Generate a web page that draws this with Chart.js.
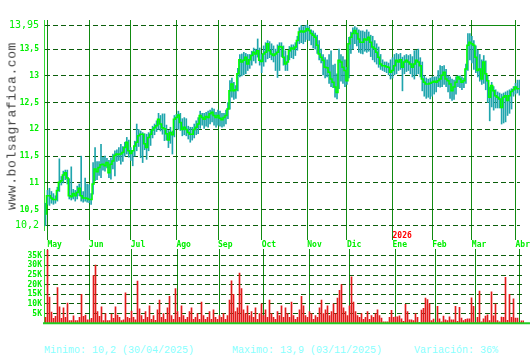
<!DOCTYPE html>
<html><head><meta charset="utf-8">
<script src="https://cdn.jsdelivr.net/npm/chart.js@4.4.1/dist/chart.umd.min.js"></script>
<style>
html,body{margin:0;padding:0;background:#fff;width:530px;height:360px;overflow:hidden;position:relative;font-family:"DejaVu Sans Mono",monospace}
#wrapP{position:absolute;left:0;top:0;width:530px;height:250px}
#wrapV{position:absolute;left:0;top:240px;width:530px;height:90px}
#brand{position:absolute;left:12px;top:126px;width:0;height:0}
#brand span{position:absolute;left:0;top:0;white-space:nowrap;font-family:"Liberation Mono",monospace;font-size:13px;letter-spacing:0.6px;color:#444;line-height:1;transform:translate(-50%,-50%) rotate(-90deg)}
.ft{position:absolute;top:345px;font-family:"Liberation Mono",monospace;font-size:10px;color:#88ffff;white-space:nowrap;line-height:12px}
</style></head>
<body>
<div id="wrapP"><canvas id="cp" width="530" height="250"></canvas></div>
<div id="wrapV"><canvas id="cv" width="530" height="90"></canvas></div>
<div id="brand"><span>www.bolsagrafica.com</span></div>
<div class="ft" style="left:44px">Minimo: 10,2 (30/04/2025)</div>
<div class="ft" style="left:232px">Maximo: 13,9 (03/11/2025)</div>
<div class="ft" style="left:414px">Variación: 36%</div>
<script>
const months = ['May','Jun','Jul','Ago','Sep','Oct','Nov','Dic','Ene','Feb','Mar','Abr'];
const monthIdx = [1,22,43,66,87,109,132,152,175,195,215,237];
const yearLabel = '2026';
const yearMonth = 8;
const priceTicks = [10.2,10.5,11,11.5,12,12.5,13,13.5,13.95];
const volTicks = [5,10,15,20,25,30,35];

const closes = [
10.42,10.76,10.76,10.72,10.69,10.69,10.86,11.01,11.04,11.15,11.19,11.09,10.76,10.74,10.80,10.76,10.82,10.90,10.76,10.72,
10.72,10.71,10.69,10.69,10.98,11.26,11.21,11.29,11.34,11.35,11.32,11.38,11.19,11.35,11.41,11.51,11.54,11.53,11.54,11.57,
11.66,11.76,11.60,11.55,11.60,11.69,11.76,11.88,11.91,11.91,11.73,11.66,11.85,11.91,11.99,12.03,12.07,12.19,12.10,12.03,
12.01,11.92,11.80,11.94,11.90,12.19,12.22,12.27,12.13,12.00,12.04,12.00,11.94,11.91,11.91,12.00,12.04,12.10,12.26,12.22,
12.19,12.24,12.22,12.29,12.32,12.26,12.22,12.26,12.21,12.18,12.22,12.26,12.38,12.72,12.85,12.72,12.74,13.04,13.30,13.26,
13.29,13.35,13.22,13.30,13.38,13.44,13.41,13.47,13.29,13.27,13.41,13.44,13.60,13.47,13.41,13.38,13.41,13.44,13.55,13.54,
13.35,13.22,13.26,13.47,13.52,13.50,13.54,13.66,13.82,13.84,13.82,13.84,13.88,13.85,13.79,13.76,13.72,13.57,13.41,13.35,
13.29,13.16,13.15,13.07,12.94,12.88,12.79,12.69,13.29,13.26,13.16,13.10,12.91,13.60,13.72,13.79,13.85,13.79,13.69,13.63,
13.63,13.69,13.67,13.72,13.63,13.54,13.51,13.44,13.35,13.22,13.19,13.19,13.17,13.16,13.07,13.10,13.19,13.29,13.26,13.30,
13.16,13.26,13.29,13.26,13.22,13.16,13.22,13.29,13.26,13.19,12.94,12.88,12.85,12.85,12.86,12.88,12.90,12.88,12.91,12.94,
13.01,13.07,12.94,12.91,12.85,12.72,12.79,12.88,12.98,12.94,12.88,12.91,13.13,13.57,13.63,13.60,13.57,13.35,13.10,13.13,
12.94,13.26,13.04,12.91,12.60,12.82,12.72,12.63,12.60,12.57,12.41,12.60,12.63,12.54,12.63,12.71,12.74,12.79,12.76,12.76];

const highs = [
10.62,10.86,10.90,10.84,10.80,10.76,10.92,11.45,11.12,11.22,11.24,11.24,11.08,11.30,10.88,10.86,10.94,10.98,11.50,10.84,
11.09,10.98,10.97,10.80,11.38,11.66,11.40,11.40,11.72,11.48,11.50,11.46,11.42,11.47,11.54,11.60,11.62,11.66,11.72,11.68,
11.76,11.85,11.80,11.66,11.60,11.78,12.10,12.00,11.97,11.94,11.92,11.91,11.94,11.98,12.06,12.10,12.16,12.30,12.26,12.29,
12.29,12.08,11.98,12.04,11.97,12.26,12.28,12.34,12.30,12.20,12.22,12.20,12.06,12.04,12.04,12.10,12.16,12.22,12.34,12.30,
12.30,12.32,12.34,12.36,12.40,12.38,12.32,12.36,12.34,12.30,12.30,12.36,12.50,12.91,12.96,12.88,12.82,13.14,13.40,13.41,
13.44,13.42,13.40,13.40,13.46,13.52,13.50,13.69,13.52,13.40,13.56,13.62,13.66,13.64,13.60,13.56,13.50,13.58,13.62,13.62,
13.56,13.47,13.38,13.55,13.58,13.58,13.62,13.74,13.90,13.94,13.92,13.94,13.95,13.92,13.86,13.84,13.80,13.76,13.66,13.50,
13.40,13.34,13.30,13.40,13.47,13.20,13.22,13.04,13.50,13.40,13.36,13.30,13.16,13.72,13.82,13.90,13.92,13.90,13.86,13.84,
13.84,13.82,13.86,13.82,13.76,13.74,13.66,13.60,13.54,13.40,13.30,13.26,13.26,13.24,13.30,13.34,13.40,13.42,13.40,13.42,
13.35,13.38,13.40,13.38,13.40,13.36,13.47,13.48,13.50,13.34,13.26,13.00,12.96,12.94,12.96,12.98,12.98,12.98,13.10,13.19,
13.18,13.19,13.12,13.00,12.98,12.94,12.92,12.98,13.00,13.00,12.98,12.96,13.22,13.79,13.79,13.74,13.66,13.56,13.48,13.40,
13.30,13.38,13.28,13.00,12.79,12.88,12.80,12.74,12.70,12.68,12.66,12.68,12.70,12.72,12.74,12.76,12.80,12.86,12.92,12.92];

const lows = [
10.20,10.60,10.58,10.62,10.60,10.62,10.66,10.84,10.96,11.00,11.06,10.98,10.70,10.68,10.70,10.66,10.70,10.76,10.66,10.64,
10.66,10.64,10.63,10.60,10.79,11.04,11.06,11.14,11.10,11.24,11.22,11.28,11.10,11.07,11.26,11.13,11.40,11.42,11.35,11.40,
11.50,11.54,11.48,11.42,11.32,11.50,11.60,11.68,11.47,11.38,11.62,11.44,11.60,11.70,11.84,11.90,11.96,12.00,11.97,11.91,
11.79,11.80,11.66,11.74,11.54,11.86,12.02,12.00,11.98,11.88,11.90,11.88,11.82,11.76,11.80,11.84,11.90,11.92,12.02,12.08,
12.02,12.06,12.04,12.10,12.14,12.08,12.04,12.08,12.06,12.04,12.06,12.10,12.20,12.38,12.60,12.56,12.58,12.72,12.98,13.00,
13.02,13.04,13.10,13.14,13.20,13.28,13.24,13.35,13.20,13.06,13.18,13.26,13.32,13.34,13.30,13.26,13.10,12.97,13.10,13.36,
13.20,13.10,13.10,13.30,13.34,13.32,13.38,13.48,13.60,13.62,13.60,13.64,13.68,13.66,13.58,13.52,13.50,13.42,13.30,13.24,
13.02,12.96,12.98,12.86,12.80,12.78,12.60,12.57,12.76,12.90,12.86,12.80,12.84,12.96,13.42,13.50,13.60,13.56,13.44,13.42,
13.41,13.46,13.44,13.46,13.36,13.30,13.26,13.22,13.16,13.12,13.10,13.08,13.06,13.02,12.94,12.96,13.02,13.04,13.10,13.12,
12.72,13.04,13.08,13.10,13.04,12.98,12.94,13.02,13.04,12.98,12.72,12.62,12.58,12.60,12.57,12.62,12.66,12.70,12.80,12.79,
12.80,12.84,12.80,12.70,12.58,12.54,12.56,12.66,12.80,12.78,12.74,12.78,12.86,13.10,13.30,13.24,13.12,13.06,12.98,12.90,
12.84,12.86,12.74,12.50,12.16,12.42,12.36,12.40,12.40,12.40,12.10,12.12,12.14,12.26,12.30,12.38,12.62,12.66,12.68,12.64];

const volumes = [
3,38,13.5,5.8,2.5,3.5,18.5,8.5,2.5,8,3,10.5,1.3,1.3,3.8,1.3,1.3,3,15,3.5,
4.2,1.8,1.8,2.5,24.7,30.2,6,3.5,8.5,1.3,5,1.3,1.3,4.7,2.5,8.5,4.2,3,1.3,1.8,
15.8,3,2.5,6.3,3,1.8,21.8,7.5,4,2,6,3,9,2,4,1.5,7,12,3,5,
2,8,14,4,2,18,6,3,9,4,2,3,6,8,2,3,5,2,11,4,
2,3,6,2,7,3,2,4,3,5,2,4,12,22,15,6,8,26,18,7,
5,9,4,6,3,8,2,5,10,4,7,3,12,5,3,2,6,4,9,3,
8,5,3,11,4,2,3,7,14,9,4,3,6,5,2,4,3,8,12,5,
7,9,4,6,10,5,13,17,20,8,6,4,9,24,11,6,4,3,5,2,
3,6,2,4,3,5,7,4,2.7,0.7,0.7,0.7,3,6.7,3,3.3,3.3,3.8,2.3,1,
9.8,6,1.7,1.7,1.3,5,3,0.5,6.8,7.7,13,12.3,10,1.3,2.2,0.5,8.7,2.3,0.7,3.7,
1.7,1.3,3.3,1.7,1.7,8.7,1,8.2,2.7,1.3,2,2.3,2.3,13.2,8.7,0.5,3,16.7,0.7,2.3,
3.7,4.3,1.3,16.3,3.8,10,1.3,0.7,3.2,3,23.8,1.5,15,3,12.7,2.7,2.7,0.5,1.2,1.2];

const days = closes.map((_, i) => i);
const X_MIN = -0.75, X_MAX = days.length - 0.75;
const LIME = '#00ee00';
const GRIDV = '#118a11';
const GRIDH = '#0b5e0b';
const MONO = '"DejaVu Sans Mono", monospace';

const priceExtras = {
  id: 'priceExtras',
  afterDraw(chart) {
    const {ctx, scales: {x, y}, chartArea} = chart;
    ctx.save();
    ctx.fillStyle = '#ff0000';
    ctx.font = 'bold 8px ' + MONO;
    ctx.textBaseline = 'middle';
    ctx.textAlign = 'left';
    ctx.fillText(yearLabel, x.getPixelForValue(monthIdx[yearMonth]), chartArea.bottom + 6);
    ctx.strokeStyle = GRIDV;
    ctx.lineWidth = 1;
    const yt = Math.round(y.getPixelForValue(priceTicks[priceTicks.length - 1])) + 0.5;
    ctx.beginPath();
    ctx.moveTo(Math.round(x.getPixelForValue(monthIdx[10])) + 0.5, yt);
    ctx.lineTo(Math.round(x.getPixelForValue(monthIdx[11])) + 0.5, yt);
    ctx.stroke();
    ctx.restore();
  }
};

new Chart(document.getElementById('cp'), {
  type: 'bar',
  data: {
    datasets: [
      {type: 'line', data: days.map(i => ({x: i, y: closes[i]})), borderColor: '#00ff00', borderWidth: 1.5, pointRadius: 0, stepped: 'middle', order: 1},
      {type: 'bar', data: days.map(i => ({x: i, y: [lows[i], highs[i]]})), backgroundColor: '#1fa5ad', barThickness: 1, borderWidth: 0, grouped: false, order: 2}
    ]
  },
  options: {
    responsive: false, animation: false, events: [],
    layout: {autoPadding: false, padding: {left: 0, right: 6, top: 20, bottom: 0}},
    plugins: {legend: {display: false}, tooltip: {enabled: false}},
    scales: {
      x: {
        type: 'linear', min: X_MIN, max: X_MAX, offset: false,
        afterBuildTicks: s => { s.ticks = monthIdx.map(v => ({value: v})); },
        afterFit: s => { s.height = 20; },
        grid: {color: GRIDV, lineWidth: 1, tickLength: 10, offset: false},
        border: {display: false},
        ticks: {autoSkip: false, maxRotation: 0, align: 'start', padding: 0, color: LIME, font: {family: MONO, size: 8, weight: 'bold'},
          callback: v => { const k = monthIdx.indexOf(v); return k >= 0 ? months[k] : ''; }}
      },
      y: {
        type: 'linear', min: 10.12, max: 14.044,
        afterBuildTicks: s => { s.ticks = priceTicks.map(v => ({value: v})); },
        afterFit: s => { s.width = 44; },
        grid: {color: GRIDH, lineWidth: 1, drawTicks: false},
        border: {display: true, color: '#33dd33', width: 1, dash: [5, 3]},
        ticks: {padding: 5, color: LIME,
          font: c => (c.tick && (c.tick.value === priceTicks[0] || c.tick.value === priceTicks[priceTicks.length - 1]))
            ? {family: MONO, size: 10} : {family: MONO, size: 8, weight: 'bold'},
          callback: v => String(v).replace('.', ',')}
      }
    }
  },
  plugins: [priceExtras]
});

const volExtras = {
  id: 'volExtras',
  afterDraw(chart) {
    const {ctx, chartArea} = chart;
    ctx.save();
    ctx.strokeStyle = '#22cc22';
    ctx.lineWidth = 2;
    ctx.beginPath();
    ctx.moveTo(chartArea.left - 1, chartArea.bottom);
    ctx.lineTo(chart.width, chartArea.bottom);
    ctx.stroke();
    ctx.restore();
  }
};

new Chart(document.getElementById('cv'), {
  type: 'bar',
  data: {
    datasets: [
      {data: days.map(i => ({x: i, y: volumes[i]})), backgroundColor: '#e31b1b', barThickness: 1, borderWidth: 0}
    ]
  },
  options: {
    responsive: false, animation: false, events: [],
    layout: {autoPadding: false, padding: {left: 0, right: 6, top: 9, bottom: 0}},
    plugins: {legend: {display: false}, tooltip: {enabled: false}},
    scales: {
      x: {
        type: 'linear', min: X_MIN, max: X_MAX, offset: false,
        afterBuildTicks: s => { s.ticks = monthIdx.map(v => ({value: v})); },
        afterFit: s => { s.height = 4; },
        grid: {color: GRIDV, lineWidth: 1, drawTicks: false, offset: false},
        border: {display: false},
        ticks: {display: false}
      },
      y: {
        type: 'linear', min: 0, max: 38.5,
        afterBuildTicks: s => { s.ticks = volTicks.map(v => ({value: v})); },
        afterFit: s => { s.width = 44; },
        grid: {color: GRIDH, lineWidth: 1, drawTicks: false},
        border: {display: true, color: '#33dd33', width: 1, dash: [5, 3]},
        ticks: {padding: 2, color: LIME, font: {family: MONO, size: 8, weight: 'bold'}, callback: v => v + 'K'}
      }
    }
  },
  plugins: [volExtras]
});
</script>
</body></html>
